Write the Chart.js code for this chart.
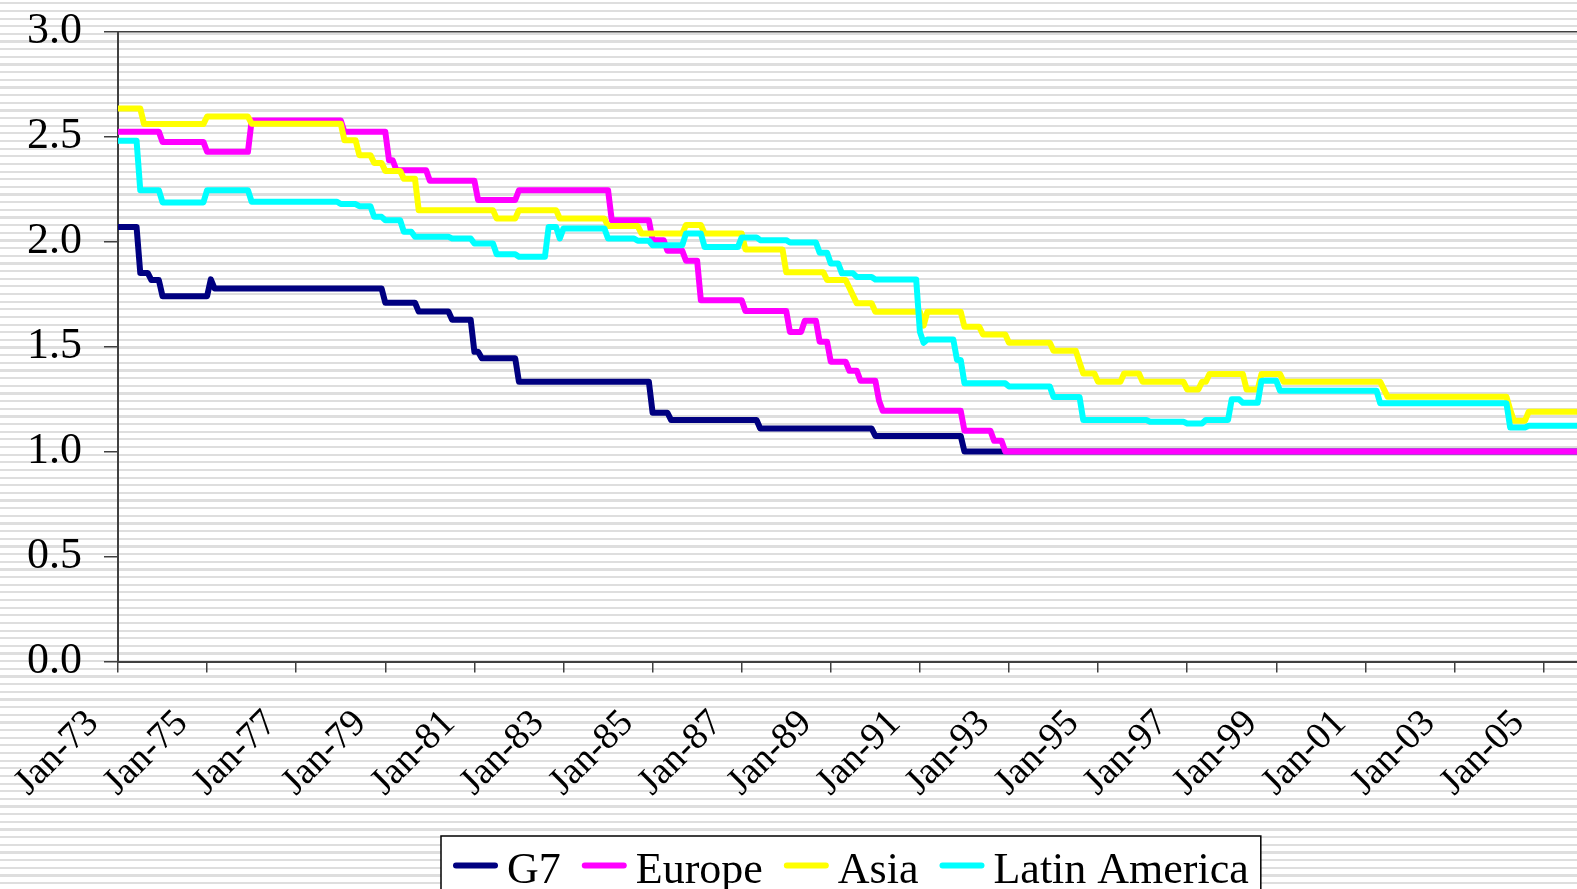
<!DOCTYPE html>
<html><head><meta charset="utf-8">
<script src="https://cdn.jsdelivr.net/npm/chart.js@4"></script>
<style>
html,body{margin:0;padding:0;width:1577px;height:889px;overflow:hidden;
background:repeating-linear-gradient(180deg,#ffffff 0px,#ffffff 2.2px,#dedede 2.2px,#dedede 4.4px,#ffffff 4.4px,#ffffff 7.65px);}
canvas{position:absolute;left:0;top:0;}
</style></head><body>
<canvas id="c" width="1577" height="889"></canvas>
<script>
// month index: 0 = Jan-73
const END_MONTH = 393;
const xTickLabels = ['Jan-73','Jan-75','Jan-77','Jan-79','Jan-81','Jan-83','Jan-85','Jan-87','Jan-89','Jan-91','Jan-93','Jan-95','Jan-97','Jan-99','Jan-01','Jan-03','Jan-05'];
const yTickLabels = ['0.0','0.5','1.0','1.5','2.0','2.5','3.0'];
const seriesNames = ['G7','Europe','Asia','Latin America'];

// each series: month where a level starts, and the level value
const g7Start = [0, 6, 9, 12, 25, 26, 72, 81, 90, 96, 98, 108, 144, 149, 173, 204, 228];
const g7Level = [2.07, 1.851, 1.817, 1.74, 1.82, 1.777, 1.709, 1.667, 1.628, 1.475, 1.444, 1.332, 1.185, 1.15, 1.11, 1.074, 1.0];

const europeStart = [0, 12, 24, 36, 61, 73, 75, 84, 97, 108, 133, 144, 148, 153, 157, 169, 181, 185, 189, 192, 197, 200, 205, 206, 228, 236, 239];
const europeLevel = [2.524, 2.475, 2.428, 2.577, 2.523, 2.388, 2.34, 2.29, 2.198, 2.245, 2.102, 2.007, 1.956, 1.909, 1.721, 1.67, 1.57, 1.623, 1.523, 1.428, 1.385, 1.337, 1.242, 1.194, 1.099, 1.051, 1.0];

const asiaStart = [0, 7, 24, 36, 61, 65, 69, 72, 77, 81, 102, 108, 119, 132, 141, 153, 158, 169, 180, 191, 197, 198, 199, 204, 217, 218, 228, 233, 240, 252, 259, 260, 264, 271, 276, 288, 292, 294, 304, 308, 314, 341, 342, 375, 376, 380];
const asiaLevel = [2.634, 2.56, 2.596, 2.562, 2.483, 2.412, 2.375, 2.337, 2.299, 2.15, 2.11, 2.15, 2.11, 2.074, 2.039, 2.079, 2.039, 1.963, 1.854, 1.817, 1.78, 1.743, 1.706, 1.666, 1.6, 1.666, 1.594, 1.558, 1.518, 1.48, 1.425, 1.372, 1.332, 1.372, 1.332, 1.296, 1.332, 1.369, 1.296, 1.369, 1.332, 1.296, 1.261, 1.2, 1.147, 1.19];

const latamStart = [0, 6, 12, 24, 36, 60, 65, 69, 72, 77, 80, 90, 96, 102, 108, 116, 119, 120, 132, 140, 144, 153, 158, 168, 173, 181, 189, 192, 195, 199, 204, 216, 217, 218, 226, 228, 240, 252, 260, 278, 288, 293, 300, 303, 308, 313, 340, 375, 380];
const latamLevel = [2.481, 2.245, 2.187, 2.245, 2.19, 2.179, 2.169, 2.118, 2.102, 2.047, 2.023, 2.015, 1.991, 1.94, 1.928, 2.07, 2.015, 2.063, 2.015, 2.004, 1.983, 2.039, 1.975, 2.02, 2.007, 1.996, 1.947, 1.896, 1.849, 1.832, 1.82, 1.57, 1.518, 1.534, 1.436, 1.325, 1.31, 1.26, 1.15, 1.142, 1.134, 1.15, 1.249, 1.232, 1.337, 1.29, 1.23, 1.115, 1.123];

const seriesColors = ['#000080', '#FF00FF', '#FFFF00', '#00FFFF'];

function stepPoints(starts, levels) {
  const pts = [];
  for (let i = 0; i < starts.length; i++) {
    const end = i + 1 < starts.length ? starts[i + 1] - 1 : END_MONTH;
    pts.push({x: starts[i], y: levels[i]});
    if (end > starts[i]) pts.push({x: end, y: levels[i]});
  }
  return pts;
}

const FONT = "'Liberation Serif', 'Times New Roman', serif";
const AXIS = '#404040';

const legendBox = {
  id: 'legendBox',
  afterDraw(chart) {
    const c = chart.ctx;
    c.save();
    c.font = '44px ' + FONT;
    const items = chart.data.datasets;
    let total = 0;
    items.forEach((ds, i) => {
      total += 45 + 9 + c.measureText(ds.label).width + (i < items.length - 1 ? 21 : 0);
    });
    const left = 441, top = 836, startX = 453;
    const right = startX + total + 12;
    c.fillStyle = '#ffffff';
    c.fillRect(left, top, right - left, 80);
    c.strokeStyle = '#000000';
    c.lineWidth = 1.5;
    c.strokeRect(left, top, right - left, 80);
    let x = startX;
    const yLine = 865.5, yText = 883;
    items.forEach((ds) => {
      c.strokeStyle = ds.borderColor;
      c.lineWidth = 6;
      c.lineCap = 'round';
      c.beginPath();
      c.moveTo(x + 3, yLine);
      c.lineTo(x + 42, yLine);
      c.stroke();
      x += 45 + 9;
      c.fillStyle = '#000000';
      c.textBaseline = 'alphabetic';
      c.textAlign = 'left';
      c.fillText(ds.label, x, yText);
      x += c.measureText(ds.label).width + 21;
    });
    c.restore();
  }
};

const starts = [g7Start, europeStart, asiaStart, latamStart];
const levels = [g7Level, europeLevel, asiaLevel, latamLevel];

new Chart(document.getElementById('c'), {
  type: 'line',
  data: {
    datasets: seriesNames.map((name, i) => ({
      label: name,
      data: stepPoints(starts[i], levels[i]),
      borderColor: seriesColors[i],
      backgroundColor: seriesColors[i],
      order: 4 - i
    }))
  },
  options: {
    responsive: false,
    animation: false,
    devicePixelRatio: 1,
    layout: {padding: 0},
    elements: {
      line: {borderWidth: 6, tension: 0, borderJoinStyle: 'round', fill: false},
      point: {radius: 0, hoverRadius: 0}
    },
    plugins: {legend: {display: false}, tooltip: {enabled: false}},
    scales: {
      x: {
        type: 'linear', min: 0, max: END_MONTH,
        afterFit: (s) => { s.height = 889 - 661.5; s.paddingLeft = 0; s.paddingRight = 0; },
        ticks: {
          stepSize: 24, includeBounds: false, autoSkip: false,
          minRotation: 45, maxRotation: 45,
          color: '#000', font: {family: FONT, size: 38},
          padding: 29, labelOffset: -25,
          callback: (v) => xTickLabels[Math.round(v / 24)]
        },
        grid: {drawOnChartArea: false, tickLength: 11, color: AXIS, lineWidth: 1.5},
        border: {color: AXIS, width: 2}
      },
      y: {
        min: 0, max: 3,
        afterFit: (s) => { s.width = 118; s.paddingTop = 31.7; s.paddingBottom = 0; },
        ticks: {
          stepSize: 0.5, color: '#000', font: {family: FONT, size: 44}, padding: 22,
          callback: (v) => yTickLabels[Math.round(v * 2)]
        },
        grid: {
          tickLength: 14, lineWidth: 1.5, tickColor: AXIS,
          color: (ctx) => (ctx.tick && ctx.tick.value === 3) ? AXIS : 'rgba(0,0,0,0)'
        },
        border: {color: AXIS, width: 2}
      }
    }
  },
  plugins: [legendBox]
});
</script>
</body></html>
